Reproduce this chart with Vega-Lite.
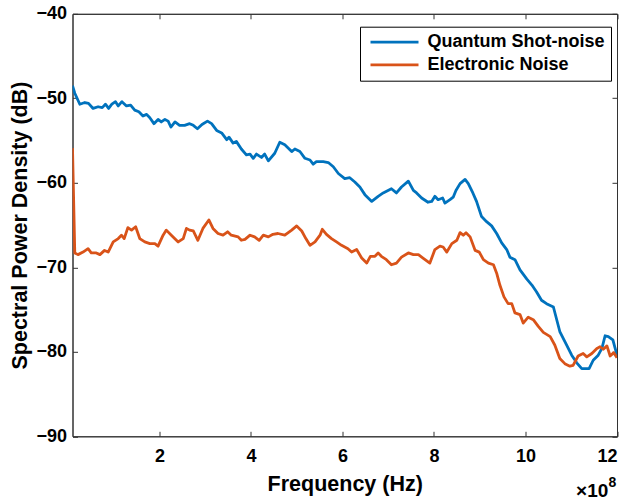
{
  "$schema": "https://vega.github.io/schema/vega-lite/v6.json",
  "width": 544.5,
  "height": 422.5,
  "autosize": {"type": "none"},
  "padding": {"left": 72.5, "top": 13.8, "right": 11, "bottom": 64.7},
  "config": {
    "font": "Liberation Sans",
    "view": {"stroke": "#333333", "strokeWidth": 1},
    "axis": {
      "domainColor": "#333333",
      "tickColor": "#333333",
      "grid": false,
      "labelFont": "Liberation Sans",
      "labelFontWeight": "bold",
      "labelFontSize": 18,
      "labelColor": "#000000",
      "titleFont": "Liberation Sans",
      "titleColor": "#000000",
      "titleFontWeight": "bold",
      "titleFontSize": 21.5,
      "tickSize": -5,
      "domainWidth": 1,
      "tickWidth": 1
    }
  },
  "data": {"values": [
    {"series":"Quantum Shot-noise","freq":0.1,"psd":-48.5},
    {"series":"Quantum Shot-noise","freq":0.15,"psd":-49.4},
    {"series":"Quantum Shot-noise","freq":0.26,"psd":-50.7},
    {"series":"Quantum Shot-noise","freq":0.37,"psd":-50.5},
    {"series":"Quantum Shot-noise","freq":0.45,"psd":-50.6},
    {"series":"Quantum Shot-noise","freq":0.55,"psd":-51.2},
    {"series":"Quantum Shot-noise","freq":0.66,"psd":-51.0},
    {"series":"Quantum Shot-noise","freq":0.75,"psd":-51.1},
    {"series":"Quantum Shot-noise","freq":0.82,"psd":-50.7},
    {"series":"Quantum Shot-noise","freq":0.89,"psd":-51.2},
    {"series":"Quantum Shot-noise","freq":0.96,"psd":-50.7},
    {"series":"Quantum Shot-noise","freq":1.04,"psd":-50.4},
    {"series":"Quantum Shot-noise","freq":1.1,"psd":-50.9},
    {"series":"Quantum Shot-noise","freq":1.18,"psd":-50.4},
    {"series":"Quantum Shot-noise","freq":1.28,"psd":-50.9},
    {"series":"Quantum Shot-noise","freq":1.37,"psd":-50.8},
    {"series":"Quantum Shot-noise","freq":1.46,"psd":-51.4},
    {"series":"Quantum Shot-noise","freq":1.55,"psd":-51.6},
    {"series":"Quantum Shot-noise","freq":1.64,"psd":-52.1},
    {"series":"Quantum Shot-noise","freq":1.72,"psd":-51.9},
    {"series":"Quantum Shot-noise","freq":1.79,"psd":-52.3},
    {"series":"Quantum Shot-noise","freq":1.88,"psd":-53.0},
    {"series":"Quantum Shot-noise","freq":1.97,"psd":-52.5},
    {"series":"Quantum Shot-noise","freq":2.04,"psd":-52.8},
    {"series":"Quantum Shot-noise","freq":2.12,"psd":-52.5},
    {"series":"Quantum Shot-noise","freq":2.19,"psd":-52.7},
    {"series":"Quantum Shot-noise","freq":2.25,"psd":-53.4},
    {"series":"Quantum Shot-noise","freq":2.34,"psd":-52.8},
    {"series":"Quantum Shot-noise","freq":2.44,"psd":-53.2},
    {"series":"Quantum Shot-noise","freq":2.55,"psd":-53.2},
    {"series":"Quantum Shot-noise","freq":2.66,"psd":-53.0},
    {"series":"Quantum Shot-noise","freq":2.74,"psd":-53.2},
    {"series":"Quantum Shot-noise","freq":2.83,"psd":-53.6},
    {"series":"Quantum Shot-noise","freq":2.93,"psd":-53.1},
    {"series":"Quantum Shot-noise","freq":3.05,"psd":-52.7},
    {"series":"Quantum Shot-noise","freq":3.14,"psd":-53.0},
    {"series":"Quantum Shot-noise","freq":3.25,"psd":-53.8},
    {"series":"Quantum Shot-noise","freq":3.36,"psd":-54.1},
    {"series":"Quantum Shot-noise","freq":3.47,"psd":-54.9},
    {"series":"Quantum Shot-noise","freq":3.52,"psd":-54.6},
    {"series":"Quantum Shot-noise","freq":3.61,"psd":-55.3},
    {"series":"Quantum Shot-noise","freq":3.68,"psd":-55.1},
    {"series":"Quantum Shot-noise","freq":3.79,"psd":-56.0},
    {"series":"Quantum Shot-noise","freq":3.9,"psd":-56.7},
    {"series":"Quantum Shot-noise","freq":3.98,"psd":-56.6},
    {"series":"Quantum Shot-noise","freq":4.05,"psd":-57.1},
    {"series":"Quantum Shot-noise","freq":4.12,"psd":-56.6},
    {"series":"Quantum Shot-noise","freq":4.23,"psd":-57.0},
    {"series":"Quantum Shot-noise","freq":4.3,"psd":-56.6},
    {"series":"Quantum Shot-noise","freq":4.38,"psd":-57.4},
    {"series":"Quantum Shot-noise","freq":4.52,"psd":-56.5},
    {"series":"Quantum Shot-noise","freq":4.63,"psd":-55.2},
    {"series":"Quantum Shot-noise","freq":4.74,"psd":-55.5},
    {"series":"Quantum Shot-noise","freq":4.89,"psd":-56.3},
    {"series":"Quantum Shot-noise","freq":4.96,"psd":-56.0},
    {"series":"Quantum Shot-noise","freq":5.07,"psd":-56.3},
    {"series":"Quantum Shot-noise","freq":5.18,"psd":-57.1},
    {"series":"Quantum Shot-noise","freq":5.29,"psd":-57.3},
    {"series":"Quantum Shot-noise","freq":5.36,"psd":-57.8},
    {"series":"Quantum Shot-noise","freq":5.43,"psd":-57.5},
    {"series":"Quantum Shot-noise","freq":5.58,"psd":-57.5},
    {"series":"Quantum Shot-noise","freq":5.69,"psd":-57.6},
    {"series":"Quantum Shot-noise","freq":5.8,"psd":-58.1},
    {"series":"Quantum Shot-noise","freq":5.91,"psd":-58.9},
    {"series":"Quantum Shot-noise","freq":6.05,"psd":-59.5},
    {"series":"Quantum Shot-noise","freq":6.16,"psd":-59.4},
    {"series":"Quantum Shot-noise","freq":6.27,"psd":-59.9},
    {"series":"Quantum Shot-noise","freq":6.38,"psd":-60.5},
    {"series":"Quantum Shot-noise","freq":6.49,"psd":-61.4},
    {"series":"Quantum Shot-noise","freq":6.64,"psd":-62.2},
    {"series":"Quantum Shot-noise","freq":6.78,"psd":-61.6},
    {"series":"Quantum Shot-noise","freq":6.89,"psd":-61.2},
    {"series":"Quantum Shot-noise","freq":7.07,"psd":-60.7},
    {"series":"Quantum Shot-noise","freq":7.18,"psd":-61.2},
    {"series":"Quantum Shot-noise","freq":7.29,"psd":-60.5},
    {"series":"Quantum Shot-noise","freq":7.44,"psd":-59.8},
    {"series":"Quantum Shot-noise","freq":7.55,"psd":-60.9},
    {"series":"Quantum Shot-noise","freq":7.62,"psd":-61.2},
    {"series":"Quantum Shot-noise","freq":7.73,"psd":-61.8},
    {"series":"Quantum Shot-noise","freq":7.87,"psd":-62.3},
    {"series":"Quantum Shot-noise","freq":7.95,"psd":-62.2},
    {"series":"Quantum Shot-noise","freq":8.02,"psd":-61.6},
    {"series":"Quantum Shot-noise","freq":8.09,"psd":-62.0},
    {"series":"Quantum Shot-noise","freq":8.19,"psd":-61.8},
    {"series":"Quantum Shot-noise","freq":8.24,"psd":-62.4},
    {"series":"Quantum Shot-noise","freq":8.35,"psd":-62.0},
    {"series":"Quantum Shot-noise","freq":8.42,"psd":-61.7},
    {"series":"Quantum Shot-noise","freq":8.48,"psd":-60.9},
    {"series":"Quantum Shot-noise","freq":8.57,"psd":-60.1},
    {"series":"Quantum Shot-noise","freq":8.68,"psd":-59.6},
    {"series":"Quantum Shot-noise","freq":8.75,"psd":-60.1},
    {"series":"Quantum Shot-noise","freq":8.85,"psd":-61.2},
    {"series":"Quantum Shot-noise","freq":8.93,"psd":-62.2},
    {"series":"Quantum Shot-noise","freq":9.04,"psd":-64.0},
    {"series":"Quantum Shot-noise","freq":9.15,"psd":-64.6},
    {"series":"Quantum Shot-noise","freq":9.26,"psd":-65.1},
    {"series":"Quantum Shot-noise","freq":9.37,"psd":-66.0},
    {"series":"Quantum Shot-noise","freq":9.48,"psd":-67.1},
    {"series":"Quantum Shot-noise","freq":9.59,"psd":-67.9},
    {"series":"Quantum Shot-noise","freq":9.66,"psd":-68.8},
    {"series":"Quantum Shot-noise","freq":9.77,"psd":-69.1},
    {"series":"Quantum Shot-noise","freq":9.88,"psd":-70.3},
    {"series":"Quantum Shot-noise","freq":10.03,"psd":-71.4},
    {"series":"Quantum Shot-noise","freq":10.14,"psd":-72.1},
    {"series":"Quantum Shot-noise","freq":10.24,"psd":-72.9},
    {"series":"Quantum Shot-noise","freq":10.35,"psd":-73.9},
    {"series":"Quantum Shot-noise","freq":10.46,"psd":-74.3},
    {"series":"Quantum Shot-noise","freq":10.61,"psd":-74.7},
    {"series":"Quantum Shot-noise","freq":10.75,"psd":-77.6},
    {"series":"Quantum Shot-noise","freq":10.9,"psd":-79.2},
    {"series":"Quantum Shot-noise","freq":11.01,"psd":-80.4},
    {"series":"Quantum Shot-noise","freq":11.12,"psd":-81.3},
    {"series":"Quantum Shot-noise","freq":11.23,"psd":-82.0},
    {"series":"Quantum Shot-noise","freq":11.39,"psd":-82.0},
    {"series":"Quantum Shot-noise","freq":11.48,"psd":-81.0},
    {"series":"Quantum Shot-noise","freq":11.59,"psd":-80.4},
    {"series":"Quantum Shot-noise","freq":11.67,"psd":-79.6},
    {"series":"Quantum Shot-noise","freq":11.74,"psd":-78.1},
    {"series":"Quantum Shot-noise","freq":11.81,"psd":-78.2},
    {"series":"Quantum Shot-noise","freq":11.91,"psd":-78.6},
    {"series":"Quantum Shot-noise","freq":11.96,"psd":-79.6},
    {"series":"Quantum Shot-noise","freq":12.0,"psd":-80.4},
    {"series":"Electronic Noise","freq":0.1,"psd":-55.9},
    {"series":"Electronic Noise","freq":0.15,"psd":-68.3},
    {"series":"Electronic Noise","freq":0.22,"psd":-68.5},
    {"series":"Electronic Noise","freq":0.33,"psd":-68.2},
    {"series":"Electronic Noise","freq":0.44,"psd":-67.8},
    {"series":"Electronic Noise","freq":0.51,"psd":-68.3},
    {"series":"Electronic Noise","freq":0.62,"psd":-68.3},
    {"series":"Electronic Noise","freq":0.7,"psd":-68.5},
    {"series":"Electronic Noise","freq":0.8,"psd":-68.0},
    {"series":"Electronic Noise","freq":0.88,"psd":-68.2},
    {"series":"Electronic Noise","freq":0.99,"psd":-67.0},
    {"series":"Electronic Noise","freq":1.1,"psd":-66.6},
    {"series":"Electronic Noise","freq":1.17,"psd":-66.2},
    {"series":"Electronic Noise","freq":1.23,"psd":-66.6},
    {"series":"Electronic Noise","freq":1.31,"psd":-65.3},
    {"series":"Electronic Noise","freq":1.39,"psd":-65.6},
    {"series":"Electronic Noise","freq":1.48,"psd":-65.2},
    {"series":"Electronic Noise","freq":1.57,"psd":-66.6},
    {"series":"Electronic Noise","freq":1.68,"psd":-67.0},
    {"series":"Electronic Noise","freq":1.79,"psd":-67.2},
    {"series":"Electronic Noise","freq":1.9,"psd":-67.2},
    {"series":"Electronic Noise","freq":1.97,"psd":-67.5},
    {"series":"Electronic Noise","freq":2.08,"psd":-66.2},
    {"series":"Electronic Noise","freq":2.15,"psd":-65.6},
    {"series":"Electronic Noise","freq":2.26,"psd":-66.2},
    {"series":"Electronic Noise","freq":2.41,"psd":-67.0},
    {"series":"Electronic Noise","freq":2.52,"psd":-66.6},
    {"series":"Electronic Noise","freq":2.59,"psd":-65.4},
    {"series":"Electronic Noise","freq":2.66,"psd":-65.6},
    {"series":"Electronic Noise","freq":2.74,"psd":-65.7},
    {"series":"Electronic Noise","freq":2.84,"psd":-66.8},
    {"series":"Electronic Noise","freq":2.95,"psd":-65.4},
    {"series":"Electronic Noise","freq":3.08,"psd":-64.4},
    {"series":"Electronic Noise","freq":3.17,"psd":-65.4},
    {"series":"Electronic Noise","freq":3.28,"psd":-66.0},
    {"series":"Electronic Noise","freq":3.39,"psd":-66.2},
    {"series":"Electronic Noise","freq":3.49,"psd":-65.8},
    {"series":"Electronic Noise","freq":3.57,"psd":-66.2},
    {"series":"Electronic Noise","freq":3.72,"psd":-66.4},
    {"series":"Electronic Noise","freq":3.79,"psd":-66.8},
    {"series":"Electronic Noise","freq":3.87,"psd":-66.7},
    {"series":"Electronic Noise","freq":3.98,"psd":-66.2},
    {"series":"Electronic Noise","freq":4.08,"psd":-66.4},
    {"series":"Electronic Noise","freq":4.18,"psd":-66.8},
    {"series":"Electronic Noise","freq":4.27,"psd":-66.2},
    {"series":"Electronic Noise","freq":4.38,"psd":-66.4},
    {"series":"Electronic Noise","freq":4.48,"psd":-66.1},
    {"series":"Electronic Noise","freq":4.59,"psd":-66.0},
    {"series":"Electronic Noise","freq":4.74,"psd":-66.2},
    {"series":"Electronic Noise","freq":4.89,"psd":-65.6},
    {"series":"Electronic Noise","freq":5.0,"psd":-65.1},
    {"series":"Electronic Noise","freq":5.11,"psd":-65.7},
    {"series":"Electronic Noise","freq":5.2,"psd":-66.6},
    {"series":"Electronic Noise","freq":5.29,"psd":-67.4},
    {"series":"Electronic Noise","freq":5.4,"psd":-67.0},
    {"series":"Electronic Noise","freq":5.51,"psd":-66.2},
    {"series":"Electronic Noise","freq":5.56,"psd":-65.5},
    {"series":"Electronic Noise","freq":5.65,"psd":-66.1},
    {"series":"Electronic Noise","freq":5.76,"psd":-66.6},
    {"series":"Electronic Noise","freq":5.87,"psd":-67.0},
    {"series":"Electronic Noise","freq":5.98,"psd":-67.4},
    {"series":"Electronic Noise","freq":6.12,"psd":-67.8},
    {"series":"Electronic Noise","freq":6.2,"psd":-68.2},
    {"series":"Electronic Noise","freq":6.31,"psd":-67.9},
    {"series":"Electronic Noise","freq":6.42,"psd":-68.9},
    {"series":"Electronic Noise","freq":6.53,"psd":-69.5},
    {"series":"Electronic Noise","freq":6.61,"psd":-68.7},
    {"series":"Electronic Noise","freq":6.71,"psd":-68.7},
    {"series":"Electronic Noise","freq":6.78,"psd":-68.3},
    {"series":"Electronic Noise","freq":6.85,"psd":-68.7},
    {"series":"Electronic Noise","freq":6.96,"psd":-69.1},
    {"series":"Electronic Noise","freq":7.07,"psd":-69.7},
    {"series":"Electronic Noise","freq":7.18,"psd":-69.5},
    {"series":"Electronic Noise","freq":7.29,"psd":-68.8},
    {"series":"Electronic Noise","freq":7.44,"psd":-68.3},
    {"series":"Electronic Noise","freq":7.55,"psd":-68.5},
    {"series":"Electronic Noise","freq":7.66,"psd":-68.5},
    {"series":"Electronic Noise","freq":7.76,"psd":-68.9},
    {"series":"Electronic Noise","freq":7.91,"psd":-69.5},
    {"series":"Electronic Noise","freq":8.02,"psd":-67.9},
    {"series":"Electronic Noise","freq":8.13,"psd":-67.5},
    {"series":"Electronic Noise","freq":8.2,"psd":-67.6},
    {"series":"Electronic Noise","freq":8.28,"psd":-68.2},
    {"series":"Electronic Noise","freq":8.39,"psd":-67.2},
    {"series":"Electronic Noise","freq":8.5,"psd":-66.8},
    {"series":"Electronic Noise","freq":8.57,"psd":-65.9},
    {"series":"Electronic Noise","freq":8.64,"psd":-66.2},
    {"series":"Electronic Noise","freq":8.7,"psd":-65.9},
    {"series":"Electronic Noise","freq":8.79,"psd":-66.4},
    {"series":"Electronic Noise","freq":8.9,"psd":-68.0},
    {"series":"Electronic Noise","freq":8.99,"psd":-68.2},
    {"series":"Electronic Noise","freq":9.08,"psd":-69.1},
    {"series":"Electronic Noise","freq":9.19,"psd":-69.5},
    {"series":"Electronic Noise","freq":9.3,"psd":-69.7},
    {"series":"Electronic Noise","freq":9.37,"psd":-70.7},
    {"series":"Electronic Noise","freq":9.44,"psd":-72.1},
    {"series":"Electronic Noise","freq":9.53,"psd":-73.5},
    {"series":"Electronic Noise","freq":9.62,"psd":-74.3},
    {"series":"Electronic Noise","freq":9.7,"psd":-74.3},
    {"series":"Electronic Noise","freq":9.77,"psd":-75.4},
    {"series":"Electronic Noise","freq":9.88,"psd":-75.6},
    {"series":"Electronic Noise","freq":9.95,"psd":-76.6},
    {"series":"Electronic Noise","freq":10.06,"psd":-75.9},
    {"series":"Electronic Noise","freq":10.17,"psd":-76.2},
    {"series":"Electronic Noise","freq":10.28,"psd":-77.0},
    {"series":"Electronic Noise","freq":10.39,"psd":-77.7},
    {"series":"Electronic Noise","freq":10.54,"psd":-78.2},
    {"series":"Electronic Noise","freq":10.64,"psd":-79.2},
    {"series":"Electronic Noise","freq":10.75,"psd":-80.8},
    {"series":"Electronic Noise","freq":10.86,"psd":-81.4},
    {"series":"Electronic Noise","freq":10.97,"psd":-81.7},
    {"series":"Electronic Noise","freq":11.04,"psd":-81.6},
    {"series":"Electronic Noise","freq":11.15,"psd":-80.5},
    {"series":"Electronic Noise","freq":11.26,"psd":-80.2},
    {"series":"Electronic Noise","freq":11.34,"psd":-80.6},
    {"series":"Electronic Noise","freq":11.45,"psd":-80.2},
    {"series":"Electronic Noise","freq":11.56,"psd":-79.6},
    {"series":"Electronic Noise","freq":11.63,"psd":-79.4},
    {"series":"Electronic Noise","freq":11.7,"psd":-79.7},
    {"series":"Electronic Noise","freq":11.78,"psd":-79.3},
    {"series":"Electronic Noise","freq":11.85,"psd":-80.5},
    {"series":"Electronic Noise","freq":11.93,"psd":-80.1},
    {"series":"Electronic Noise","freq":12.0,"psd":-80.7}
  ]},
  "layer": [
    {
      "mark": {"type": "line", "strokeWidth": 2.8, "strokeJoin": "round", "clip": true},
      "encoding": {
        "x": {
          "field": "freq", "type": "quantitative",
          "scale": {"domain": [0.1, 12], "nice": false, "zero": false},
          "axis": {"orient": "bottom", "values": [2, 4, 6, 8, 10, 12], "title": "Frequency (Hz)", "labelPadding": 16, "titlePadding": 8}
        },
        "y": {
          "field": "psd", "type": "quantitative",
          "scale": {"domain": [-90, -40], "nice": false, "zero": false},
          "axis": {"orient": "left", "values": [-90, -80, -70, -60, -50, -40], "format": "d", "title": "Spectral Power Density (dB)", "labelPadding": 11, "titlePadding": 4}
        },
        "color": {
          "field": "series", "type": "nominal",
          "scale": {"domain": ["Quantum Shot-noise", "Electronic Noise"], "range": ["#0072BD", "#D95319"]},
          "legend": {
            "title": null, "orient": "none", "legendX": 287.5, "legendY": 12.9,
            "symbolType": "M-1,0H8.6", "symbolSize": 100, "symbolStrokeWidth": 2.8,
            "labelFont": "Liberation Sans", "labelFontSize": 18, "labelFontWeight": "bold", "labelColor": "#000000",
            "labelLimit": 0, "labelOffset": 43, "rowPadding": 4.7, "padding": 6.5,
            "strokeColor": "#000000", "fillColor": "#ffffff", "cornerRadius": 0
          }
        }
      }
    },
    {
      "mark": {"type": "point", "opacity": 0},
      "encoding": {
        "x": {"field": "freq", "type": "quantitative", "scale": {"domain": [0.1, 12], "nice": false, "zero": false}, "axis": {"orient": "top", "values": [2, 4, 6, 8, 10, 12], "labels": false, "title": " ", "titleFontSize": 1, "titlePadding": 0, "domain": true, "ticks": true}},
        "y": {"field": "psd", "type": "quantitative", "scale": {"domain": [-90, -40], "nice": false, "zero": false}, "axis": {"orient": "right", "values": [-90, -80, -70, -60, -50, -40], "labels": false, "title": " ", "titleFontSize": 1, "titlePadding": 0, "domain": true, "ticks": true}}
      }
    },
    {
      "data": {"values": [{}]},
      "mark": {"type": "text", "text": "×10", "align": "right", "baseline": "alphabetic", "dx": -8.7, "dy": 60.7, "fontSize": 19, "fontWeight": "bold", "font": "Liberation Sans", "color": "#000000"},
      "encoding": {
        "x": {"datum": 12, "type": "quantitative", "scale": {"domain": [0.1, 12], "nice": false, "zero": false}, "axis": null},
        "y": {"datum": -90, "type": "quantitative", "scale": {"domain": [-90, -40], "nice": false, "zero": false}, "axis": null}
      }
    },
    {
      "data": {"values": [{}]},
      "mark": {"type": "text", "text": "8", "align": "left", "baseline": "alphabetic", "dx": -8.5, "dy": 50.7, "fontSize": 14, "fontWeight": "bold", "font": "Liberation Sans", "color": "#000000"},
      "encoding": {
        "x": {"datum": 12, "type": "quantitative", "scale": {"domain": [0.1, 12], "nice": false, "zero": false}, "axis": null},
        "y": {"datum": -90, "type": "quantitative", "scale": {"domain": [-90, -40], "nice": false, "zero": false}, "axis": null}
      }
    }
  ],
  "resolve": {"scale": {"x": "independent", "y": "independent"}, "axis": {"x": "independent", "y": "independent"}}
}
